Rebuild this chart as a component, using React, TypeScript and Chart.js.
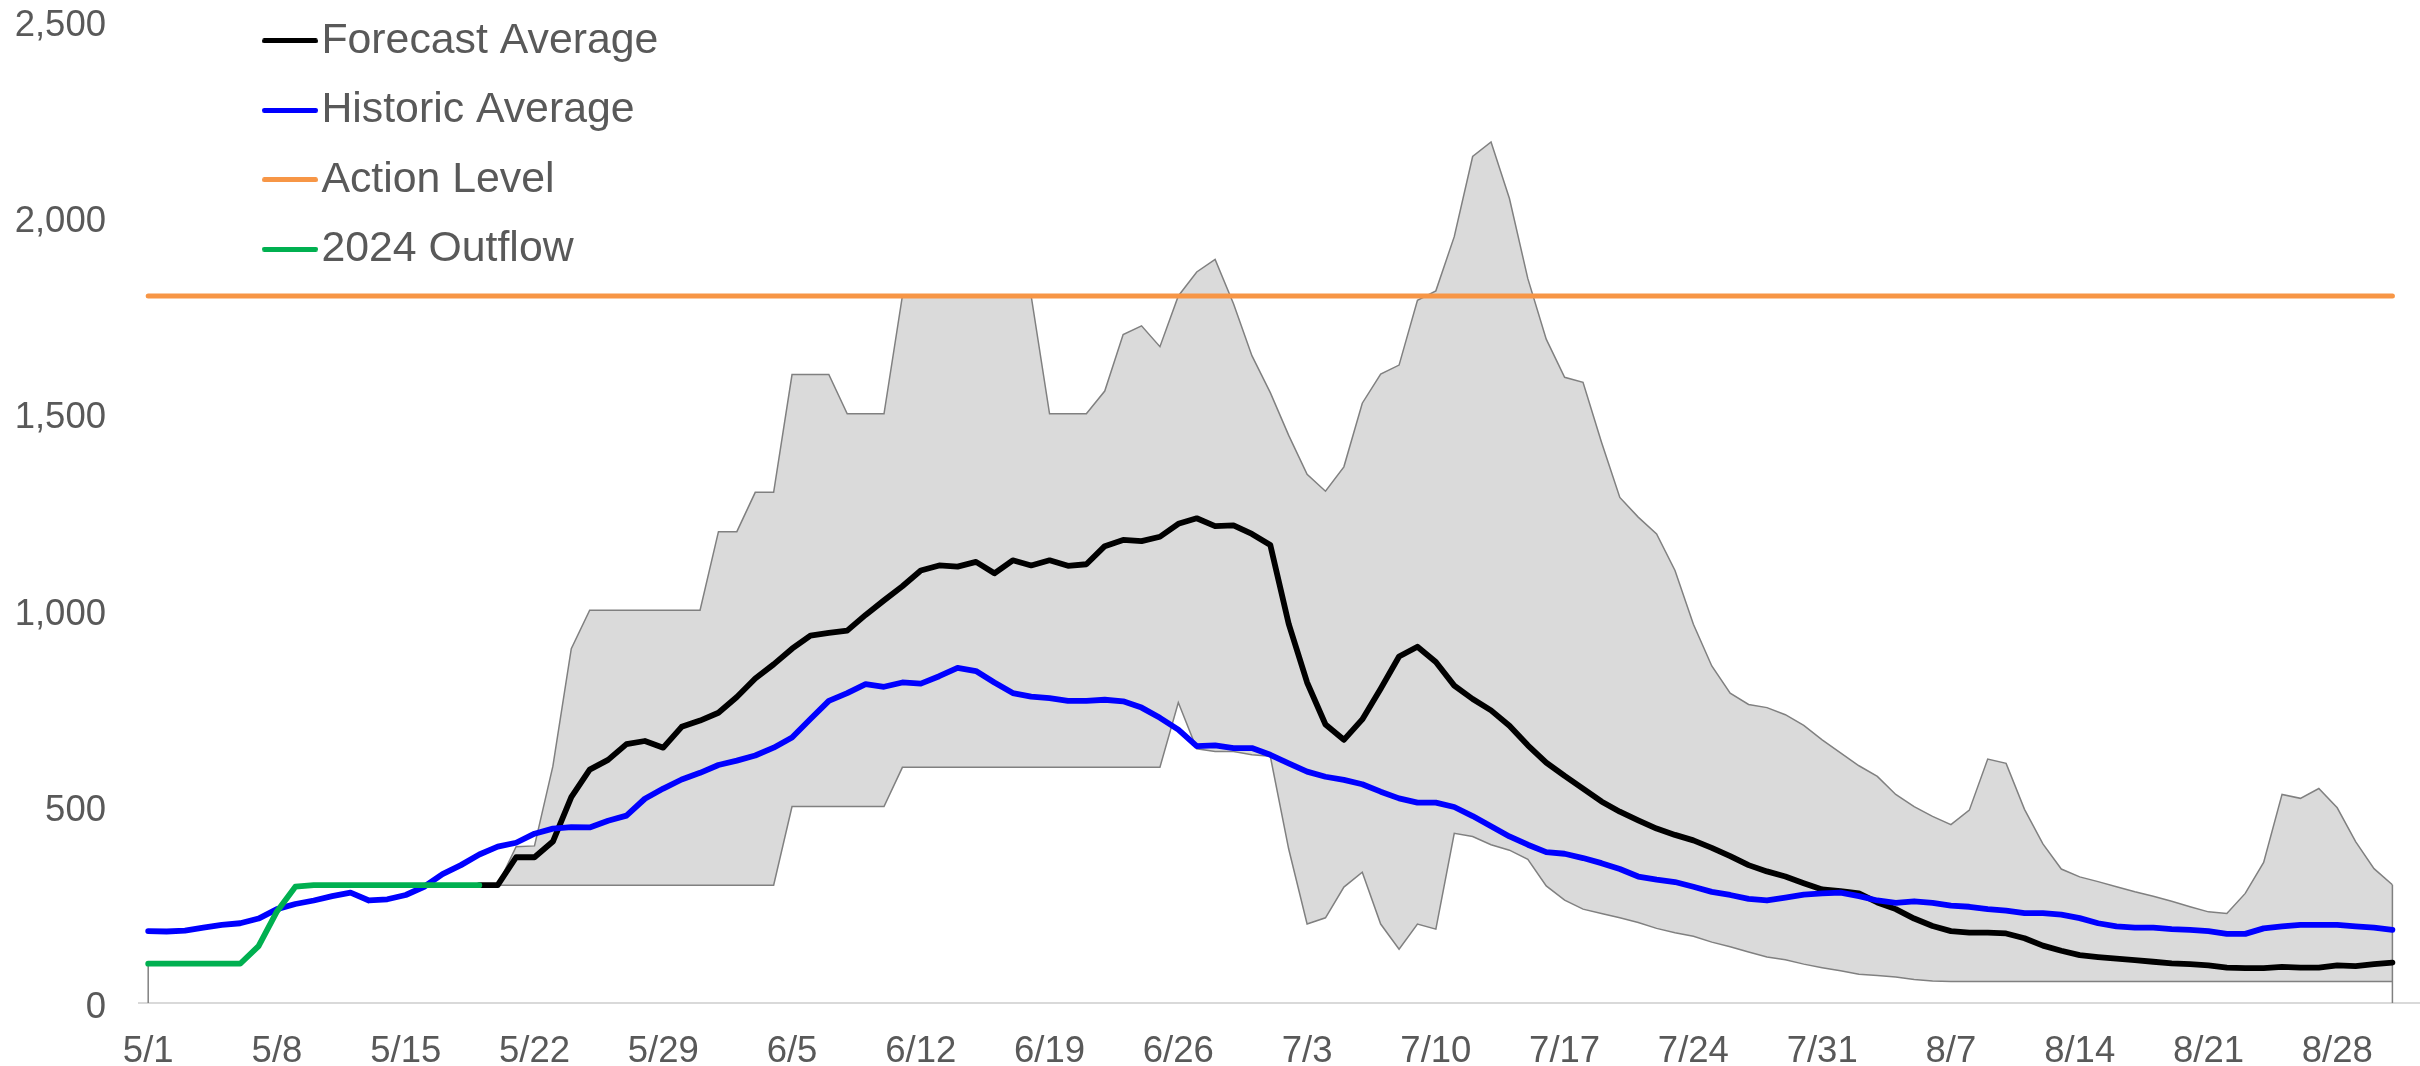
import React, { useEffect, useRef } from 'react';
import { Chart, registerables } from 'chart.js';

Chart.register(...registerables);

// ---- categories (daily, 5/1 .. 8/31) ----
const dates = [
  '5/1','5/2','5/3','5/4','5/5','5/6','5/7','5/8','5/9','5/10','5/11','5/12','5/13','5/14','5/15','5/16','5/17','5/18','5/19','5/20','5/21','5/22','5/23','5/24','5/25','5/26','5/27','5/28','5/29','5/30','5/31',
  '6/1','6/2','6/3','6/4','6/5','6/6','6/7','6/8','6/9','6/10','6/11','6/12','6/13','6/14','6/15','6/16','6/17','6/18','6/19','6/20','6/21','6/22','6/23','6/24','6/25','6/26','6/27','6/28','6/29','6/30',
  '7/1','7/2','7/3','7/4','7/5','7/6','7/7','7/8','7/9','7/10','7/11','7/12','7/13','7/14','7/15','7/16','7/17','7/18','7/19','7/20','7/21','7/22','7/23','7/24','7/25','7/26','7/27','7/28','7/29','7/30','7/31',
  '8/1','8/2','8/3','8/4','8/5','8/6','8/7','8/8','8/9','8/10','8/11','8/12','8/13','8/14','8/15','8/16','8/17','8/18','8/19','8/20','8/21','8/22','8/23','8/24','8/25','8/26','8/27','8/28','8/29','8/30','8/31',
];

const tickLabels = ['5/1','5/8','5/15','5/22','5/29','6/5','6/12','6/19','6/26','7/3','7/10','7/17','7/24','7/31','8/7','8/14','8/21','8/28'];
const yTicks = [0, 500, 1000, 1500, 2000, 2500];

// ---- series ----
const forecastAverage: (number | null)[] = [
  null,null,null,null,null,null,null,null,null,null,null,null,null,null,null,null,null,null,300,300,371,371,411,524,594,619,659,667,650,703,719,
  739,779,826,862,902,935,942,948,988,1025,1061,1101,1114,1111,1123,1094,1127,1114,1127,1113,1117,1163,1179,1176,1187,1220,1234,1214,1216,1194,
  1166,965,816,709,670,722,800,882,907,868,808,774,745,706,656,612,578,546,513,487,465,444,428,414,395,374,351,335,322,305,289,
  285,279,256,239,215,196,183,179,179,177,165,146,133,122,117,113,109,105,101,99,96,90,89,89,92,90,90,96,94,99,103,
];

const historicAverage: number[] = [
  183,182,184,192,199,203,215,239,252,261,272,281,261,264,275,296,328,351,378,398,408,431,444,448,447,464,477,520,546,569,586,
  606,617,630,650,676,723,769,789,812,805,816,813,832,853,845,816,789,780,776,769,769,772,768,752,726,696,654,656,649,649,
  632,610,589,576,568,557,538,521,510,510,499,476,450,424,403,384,380,369,356,341,322,314,308,296,283,275,265,261,268,276,279,
  281,272,261,255,259,255,248,245,239,235,229,229,225,216,203,195,192,192,188,186,183,176,176,190,195,199,199,199,195,192,186,
];

const actionLevel = 1800;

const outflow2024: number[] = [100,100,100,100,100,100,145,233,296,300,300,300,300,300,300,300,300,300,300];

const rangeMax: number[] = [
  100,100,100,100,100,100,145,233,296,300,300,300,300,300,300,300,300,300,300,300,398,400,603,902,1000,1000,1000,1000,1000,1000,1000,
  1200,1200,1300,1300,1600,1600,1600,1500,1500,1500,1800,1800,1800,1800,1800,1800,1800,1800,1500,1500,1500,1558,1702,1724,1671,1800,1861,1893,1780,1648,
  1554,1445,1346,1303,1365,1527,1601,1624,1789,1813,1951,2155,2192,2048,1844,1690,1593,1580,1428,1287,1237,1194,1101,964,858,789,760,752,734,707,670,
  637,604,577,531,500,475,454,491,621,610,493,405,341,321,309,296,283,272,259,245,232,228,279,358,531,521,546,497,411,342,301,
];

const rangeMin: number[] = [
  100,100,100,100,100,100,145,233,296,300,300,300,300,300,300,300,300,300,300,300,300,300,300,300,300,300,300,300,300,300,300,
  300,300,300,300,500,500,500,500,500,500,600,600,600,600,600,600,600,600,600,600,600,600,600,600,600,765,647,640,640,632,
  628,392,201,217,295,333,201,137,201,188,432,424,403,389,366,298,262,239,228,217,205,190,179,170,155,143,130,117,110,99,90,
  82,73,70,66,60,56,55,55,55,55,55,55,55,55,55,55,55,55,55,55,55,55,55,55,55,55,55,55,55,55,55,
];

// ---- styles ----
const FONT = "'Liberation Sans', Arial, Helvetica, sans-serif";
const TEXT = '#595959';
const C_FORECAST = '#000000';
const C_HISTORIC = '#0000FF';
const C_ACTION = '#F79646';
const C_OUTFLOW = '#00B050';
const C_BAND = '#DADADA';
const C_BAND_LINE = '#808080';

const toPoints = (arr: (number | null)[]) =>
  arr.map((v, i) => (v == null ? null : { x: i, y: v })).filter((p) => p !== null) as { x: number; y: number }[];

function makeLegendSwatch(color: string) {
  const c = document.createElement('canvas');
  c.width = 56;
  c.height = 5;
  const g = c.getContext('2d')!;
  g.fillStyle = color;
  g.beginPath();
  g.moveTo(2.5, 0);
  g.lineTo(53.5, 0);
  g.arc(53.5, 2.5, 2.5, -Math.PI / 2, Math.PI / 2);
  g.lineTo(2.5, 5);
  g.arc(2.5, 2.5, 2.5, Math.PI / 2, Math.PI * 1.5);
  g.fill();
  return c;
}

export default function App() {
  const ref = useRef<HTMLCanvasElement>(null);

  useEffect(() => {
    if (!ref.current) return;
    Chart.defaults.font.family = FONT;

    const legendEntries = [
      { text: 'Forecast Average', color: C_FORECAST, datasetIndex: 2 },
      { text: 'Historic Average', color: C_HISTORIC, datasetIndex: 3 },
      { text: 'Action Level', color: C_ACTION, datasetIndex: 4 },
      { text: '2024 Outflow', color: C_OUTFLOW, datasetIndex: 5 },
    ].map((e) => ({ ...e, swatch: makeLegendSwatch(e.color) }));

    const LEGEND_FONT = 42.8;
    const LEGEND_GAP = 26.6;

    const legendPlace = {
      id: 'legendPlace',
      afterLayout(chart: any) {
        const lg = chart.legend;
        if (!lg) return;
        lg.left = 280 - LEGEND_GAP;
        lg.top = 19.5 - LEGEND_GAP;
      },
    };

    const bandEdges = {
      id: 'bandEdges',
      afterDatasetDraw(chart: any, args: any) {
        if (args.index !== 1) return;
        const { ctx } = chart;
        const xs = chart.scales.x;
        const ys = chart.scales.y;
        ctx.save();
        ctx.strokeStyle = C_BAND_LINE;
        ctx.lineWidth = 1.5;
        [0, dates.length - 1].forEach((i) => {
          const px = xs.getPixelForValue(i);
          ctx.beginPath();
          ctx.moveTo(px, ys.getPixelForValue(0));
          ctx.lineTo(px, ys.getPixelForValue(rangeMax[i]));
          ctx.stroke();
        });
        ctx.restore();
      },
    };

    const tickIdx = tickLabels.map((l) => dates.indexOf(l));

    const lineCommon = {
      pointRadius: 0,
      pointHoverRadius: 0,
      borderCapStyle: 'round' as const,
      borderJoinStyle: 'round' as const,
      tension: 0,
      fill: false,
    };

    const chart = new Chart(ref.current, {
      type: 'line',
      data: {
        datasets: [
          {
            label: 'Range Max',
            data: toPoints(rangeMax),
            borderColor: C_BAND_LINE,
            borderWidth: 1.5,
            backgroundColor: C_BAND,
            pointRadius: 0,
            fill: '+1',
            order: 12,
            borderJoinStyle: 'miter',
          },
          {
            label: 'Range Min',
            data: toPoints(rangeMin),
            borderColor: C_BAND_LINE,
            borderWidth: 1.5,
            backgroundColor: C_BAND,
            pointRadius: 0,
            fill: false,
            order: 11,
            borderJoinStyle: 'miter',
          },
          {
            label: 'Forecast Average',
            data: toPoints(forecastAverage),
            borderColor: C_FORECAST,
            backgroundColor: C_FORECAST,
            borderWidth: 5.8,
            order: 5,
            ...lineCommon,
          },
          {
            label: 'Historic Average',
            data: toPoints(historicAverage),
            borderColor: C_HISTORIC,
            backgroundColor: C_HISTORIC,
            borderWidth: 5.8,
            order: 4,
            ...lineCommon,
          },
          {
            label: 'Action Level',
            data: [
              { x: 0, y: actionLevel },
              { x: dates.length - 1, y: actionLevel },
            ],
            borderColor: C_ACTION,
            backgroundColor: C_ACTION,
            borderWidth: 5,
            order: 3,
            ...lineCommon,
          },
          {
            label: '2024 Outflow',
            data: toPoints(outflow2024),
            borderColor: C_OUTFLOW,
            backgroundColor: C_OUTFLOW,
            borderWidth: 5.8,
            order: 2,
            ...lineCommon,
          },
        ],
      },
      options: {
        responsive: false,
        animation: false,
        events: [],
        layout: { padding: { left: 0, right: 0, top: 21, bottom: 0 } },
        plugins: {
          tooltip: { enabled: false },
          title: { display: false },
          legend: {
            display: true,
            position: 'chartArea',
            align: 'start',
            labels: {
              usePointStyle: true,
              pointStyleWidth: 20,
              padding: LEGEND_GAP,
              color: TEXT,
              font: { size: LEGEND_FONT, family: FONT },
              generateLabels: () =>
                legendEntries.map((e) => ({
                  text: e.text,
                  fillStyle: e.color,
                  strokeStyle: e.color,
                  lineWidth: 0,
                  pointStyle: e.swatch as any,
                  hidden: false,
                  datasetIndex: e.datasetIndex,
                  fontColor: TEXT,
                })),
            },
          },
        },
        scales: {
          x: {
            type: 'linear',
            min: -0.5,
            max: dates.length + 0.5,
            grid: { display: false, drawTicks: false },
            border: { display: true, color: '#D9D9D9', width: 2 },
            ticks: {
              autoSkip: false,
              maxRotation: 0,
              minRotation: 0,
              padding: 27,
              color: TEXT,
              font: { size: 36.5, family: FONT },
              callback: (v: any) => dates[Number(v)] ?? '',
            },
            afterBuildTicks: (s: any) => {
              s.ticks = tickIdx.map((v) => ({ value: v }));
            },
            afterFit: (s: any) => {
              s.height = 63;
              s.paddingLeft = 0;
              s.paddingRight = 0;
            },
          },
          y: {
            type: 'linear',
            min: yTicks[0],
            max: yTicks[yTicks.length - 1],
            grid: { display: false, drawTicks: false },
            border: { display: false },
            ticks: {
              stepSize: 500,
              padding: 33,
              color: TEXT,
              font: { size: 36.5, family: FONT },
              labelOffset: (c: any) => (c.tick && c.tick.value === yTicks[yTicks.length - 1] ? 12 : 4.5),
              callback: (v: any) => Number(v).toLocaleString('en-US'),
            },
            afterBuildTicks: (s: any) => {
              s.ticks = yTicks.map((v) => ({ value: v }));
            },
            afterFit: (s: any) => {
              s.width = 139;
              s.paddingTop = 0;
              s.paddingBottom = 0;
            },
          },
        },
      },
      plugins: [legendPlace, bandEdges],
    } as any);

    return () => chart.destroy();
  }, []);

  return (
    <div style={{ position: 'fixed', left: 0, top: 0, width: 2420, height: 1066, background: '#ffffff' }}>
      <canvas ref={ref} width={2420} height={1066} style={{ display: 'block', width: 2420, height: 1066 }} />
    </div>
  );
}
